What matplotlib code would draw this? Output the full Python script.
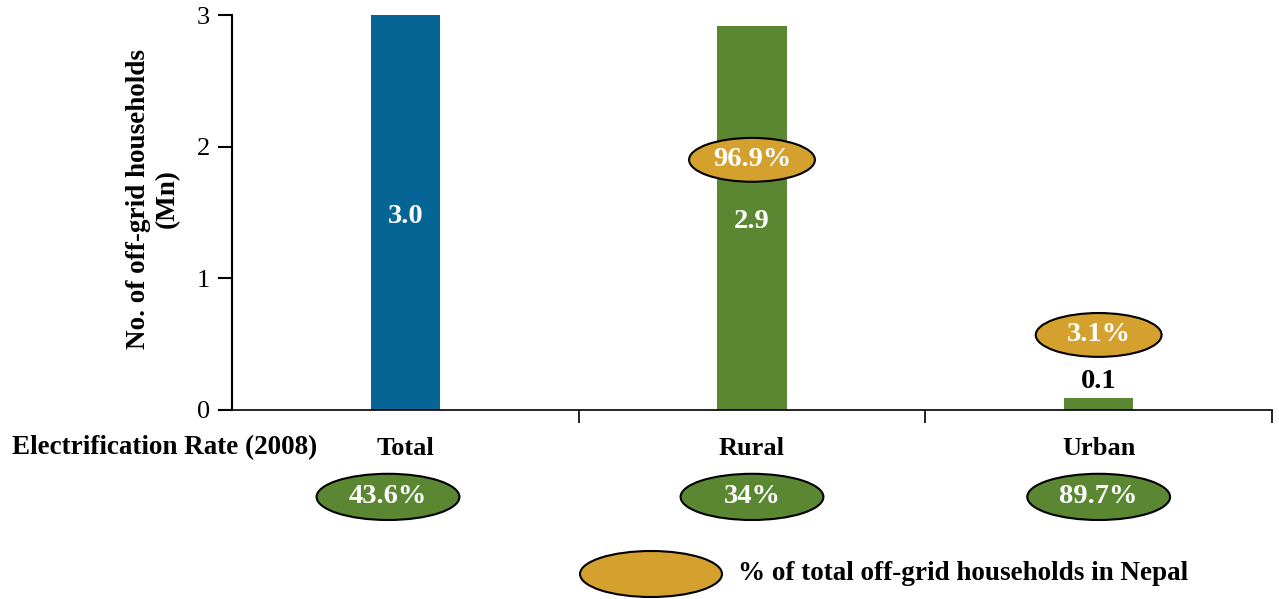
import matplotlib.pyplot as plt
import matplotlib.transforms as mtransforms
from matplotlib.patches import Ellipse

categories = ['Total', 'Rural', 'Urban']
households = [3.0, 2.92, 0.09]          # Mn off-grid households
value_labels = ['3.0', '2.9', '0.1']
share_labels = [None, '96.9%', '3.1%']   # % of total off-grid households
share_y = [None, 1.9, 0.57]
elec_rate = ['43.6%', '34%', '89.7%']    # electrification rate 2008

blue = '#066595'
green = '#5b8733'
orange = '#d4a02e'

plt.rcParams['font.family'] = ['Liberation Serif', 'DejaVu Serif']

fig = plt.figure(figsize=(12.79, 5.99), dpi=100)
ax = fig.add_axes([232 / 1279, 1 - 410 / 599, 1040 / 1279, 395 / 599])

x = list(range(len(categories)))
colors = [blue, green, green]
ax.bar(x, households, width=0.2, color=colors, zorder=2)

ax.set_xlim(-0.5, 2.5)
ax.set_ylim(0, 3)
ax.set_yticks([0, 1, 2, 3])
ax.tick_params(axis='y', direction='out', length=10, width=1.5, labelsize=19, pad=6)
ax.set_xticks([0.5, 1.5, 2.5])
ax.set_xticklabels([])
ax.tick_params(axis='x', direction='out', length=9, width=1.2)
for s in ['top', 'right']:
    ax.spines[s].set_visible(False)
ax.spines['left'].set_linewidth(1.5)
ax.spines['bottom'].set_linewidth(1.2)

ax.set_ylabel('No. of off-grid households\n(Mn)', fontsize=19.5, fontweight='bold',
              linespacing=1.2, labelpad=12, y=0.535)

# values on bars
for i, (v, lab) in enumerate(zip(households, value_labels)):
    if v > 0.5:
        ax.text(i, v / 2 - 0.03, lab, ha='center', va='center',
                color='white', fontsize=20.5, fontweight='bold')
    else:
        ax.text(i, v + 0.03, lab, ha='center', va='bottom',
                color='black', fontsize=20.5, fontweight='bold')

# share ellipses
for i, (lab, y) in enumerate(zip(share_labels, share_y)):
    if lab is None:
        continue
    ax.add_patch(Ellipse((i, y), 0.363, 0.333, facecolor=orange, edgecolor='black',
                         lw=1.5, zorder=3))
    ax.text(i, y, lab, ha='center', va='center', color='white', fontsize=20.5,
            fontweight='bold', zorder=4)

# category labels and electrification rate
trans = mtransforms.blended_transform_factory(ax.transData, ax.transAxes)
for i, (cat, rate) in enumerate(zip(categories, elec_rate)):
    ax.text(i, -0.097, cat, transform=trans, ha='center', va='center',
            fontsize=19, fontweight='bold')
    ex = i - 0.05 if i == 0 else i
    ax.add_patch(Ellipse((ex, -0.22), 0.412, 0.117, transform=trans, facecolor=green,
                         edgecolor='black', lw=1.5, clip_on=False, zorder=3))
    ax.text(ex, -0.22, rate, transform=trans, ha='center', va='center',
            color='white', fontsize=20.5, fontweight='bold', zorder=4)

fig.text(12 / 1279, 1 - 448 / 599, 'Electrification Rate (2008)', ha='left', va='center',
         fontsize=19.5, fontweight='bold')

# legend
fig.patches.append(Ellipse((651 / 1279, 1 - 574 / 599), 142 / 1279, 46 / 599,
                           transform=fig.transFigure, facecolor=orange,
                           edgecolor='black', lw=1.5))
fig.text(738 / 1279, 1 - 574 / 599, '% of total off-grid households in Nepal',
         ha='left', va='center', fontsize=19.5, fontweight='bold')

fig.savefig('out.png', dpi=100)
